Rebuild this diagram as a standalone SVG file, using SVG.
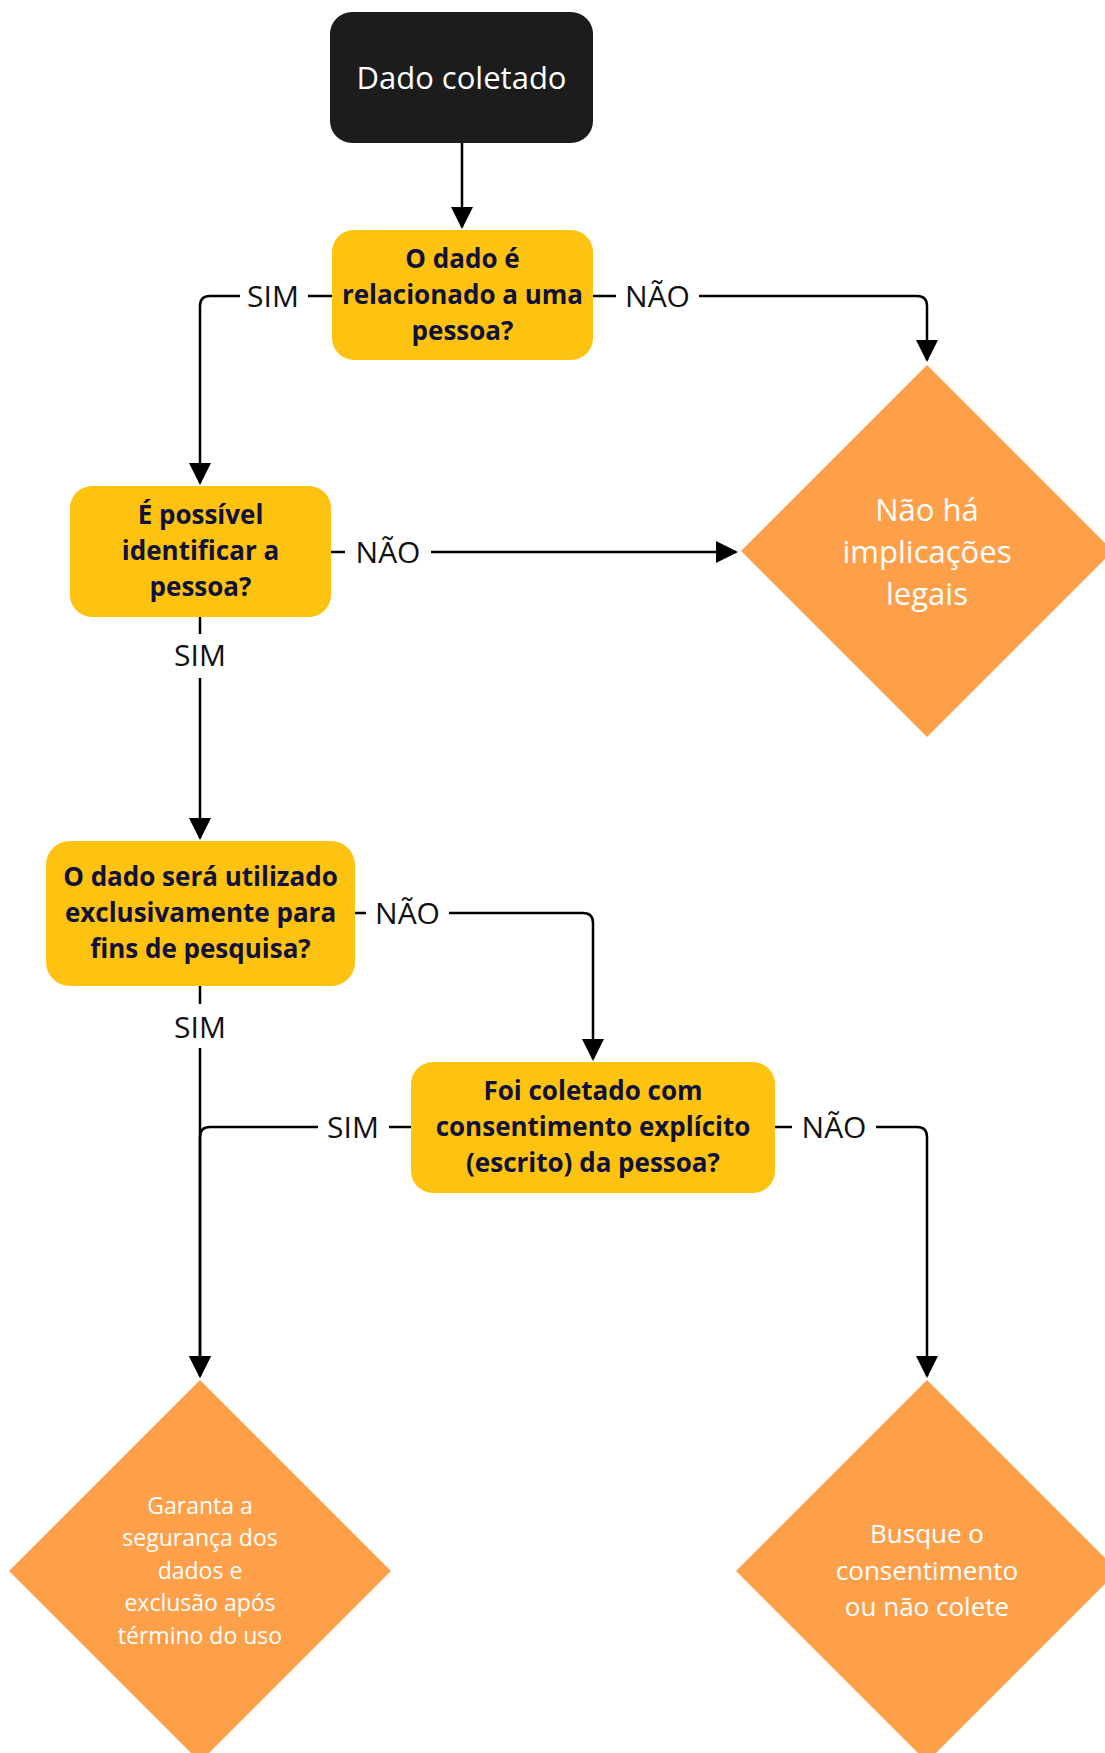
<svg xmlns="http://www.w3.org/2000/svg" width="1105" height="1753" viewBox="0 0 1105 1753">
<style>
.q{fill:#FEC210}
.qt{font-family:"Open Sans","Noto Sans",sans-serif;font-weight:700;font-size:26px;fill:#10103a;text-anchor:middle}
.d{fill:#FE9F4A}
.dt{font-family:"Open Sans","Noto Sans",sans-serif;fill:#ffffff;text-anchor:middle}
.c{fill:none;stroke:#000;stroke-width:2.5}
.lb{fill:#fff}
.lt{font-family:"Open Sans","Noto Sans",sans-serif;font-size:30px;fill:#111;text-anchor:middle}
</style>
<defs>
<marker id="ah" markerUnits="userSpaceOnUse" markerWidth="22" markerHeight="22" refX="20" refY="11" orient="auto">
<path d="M0,0 L22,11 L0,22 z" fill="#000"/>
</marker>
</defs>
<rect width="1105" height="1753" fill="#fff"/>
<g id="connectors">
<path class="c" d="M462,143 V227" marker-end="url(#ah)"/>
<path class="c" d="M332,296 H210 Q200,296 200,306 V483" marker-end="url(#ah)"/>
<path class="c" d="M593,296 H917 Q927,296 927,306 V360" marker-end="url(#ah)"/>
<path class="c" d="M331,552 H736" marker-end="url(#ah)"/>
<path class="c" d="M200,617 V838" marker-end="url(#ah)"/>
<path class="c" d="M355,913 H583 Q593,913 593,923 V1059" marker-end="url(#ah)"/>
<path class="c" d="M200,986 V1376" marker-end="url(#ah)"/>
<path class="c" d="M411,1127 H210 Q200,1127 200,1137 V1376" marker-end="url(#ah)"/>
<path class="c" d="M775,1127 H917 Q927,1127 927,1137 V1376" marker-end="url(#ah)"/>
<rect class="lb" x="240" y="279" width="68" height="34"/>
<text class="lt" x="273" y="307">SIM</text>
<rect class="lb" x="616" y="277" width="83" height="36"/>
<text class="lt" x="657.5" y="307">NÃO</text>
<rect class="lb" x="345" y="533" width="86" height="36"/>
<text class="lt" x="388" y="563">NÃO</text>
<rect class="lb" x="166" y="634" width="68" height="44"/>
<text class="lt" x="200" y="666">SIM</text>
<rect class="lb" x="366" y="894" width="83" height="36"/>
<text class="lt" x="407.5" y="924">NÃO</text>
<rect class="lb" x="166" y="1004" width="68" height="44"/>
<text class="lt" x="200" y="1038">SIM</text>
<rect class="lb" x="318" y="1110" width="71" height="34"/>
<text class="lt" x="353" y="1138">SIM</text>
<rect class="lb" x="792" y="1108" width="84" height="36"/>
<text class="lt" x="834" y="1138">NÃO</text>
</g>
<g id="start">
<rect x="330" y="12" width="263" height="131" rx="22" fill="#1c1c1c"/>
<text x="461.5" y="89" font-family="'Open Sans','Noto Sans',sans-serif" font-size="31" fill="#fff" text-anchor="middle">Dado coletado</text>
</g>
<g id="q1">
<rect class="q" x="332" y="230" width="261" height="130" rx="22"/>
<text class="qt" x="462.5" y="268">O dado é</text>
<text class="qt" x="462.5" y="304">relacionado a uma</text>
<text class="qt" x="462.5" y="340">pessoa?</text>
</g>
<g id="q2">
<rect class="q" x="70" y="486" width="261" height="131" rx="22"/>
<text class="qt" x="200.5" y="524">É possível</text>
<text class="qt" x="200.5" y="560">identificar a</text>
<text class="qt" x="200.5" y="596">pessoa?</text>
</g>
<g id="q3">
<rect class="q" x="46" y="841" width="309" height="145" rx="24"/>
<text class="qt" x="200.5" y="886">O dado será utilizado</text>
<text class="qt" x="200.5" y="922">exclusivamente para</text>
<text class="qt" x="200.5" y="958">fins de pesquisa?</text>
</g>
<g id="q4">
<rect class="q" x="411" y="1062" width="364" height="131" rx="22"/>
<text class="qt" x="593" y="1100">Foi coletado com</text>
<text class="qt" x="593" y="1136">consentimento explícito</text>
<text class="qt" x="593" y="1172">(escrito) da pessoa?</text>
</g>
<g id="r1">
<polygon class="d" points="927,365 1113,551 927,737 741,551"/>
<text class="dt" font-size="31" x="927" y="521">Não há</text>
<text class="dt" font-size="31" x="927" y="563">implicações</text>
<text class="dt" font-size="31" x="927" y="605">legais</text>
</g>
<g id="r2">
<polygon class="d" points="200,1380 391,1571 200,1762 9,1571"/>
<text class="dt" font-size="23" x="200" y="1514">Garanta a</text>
<text class="dt" font-size="23" x="200" y="1546">segurança dos</text>
<text class="dt" font-size="23" x="200" y="1579">dados e</text>
<text class="dt" font-size="23" x="200" y="1611">exclusão após</text>
<text class="dt" font-size="23" x="200" y="1644">término do uso</text>
</g>
<g id="r3">
<polygon class="d" points="927,1380 1118,1571 927,1762 736,1571"/>
<text class="dt" font-size="26" x="927" y="1543">Busque o</text>
<text class="dt" font-size="26" x="927" y="1580">consentimento</text>
<text class="dt" font-size="26" x="927" y="1616">ou não colete</text>
</g>
</svg>
